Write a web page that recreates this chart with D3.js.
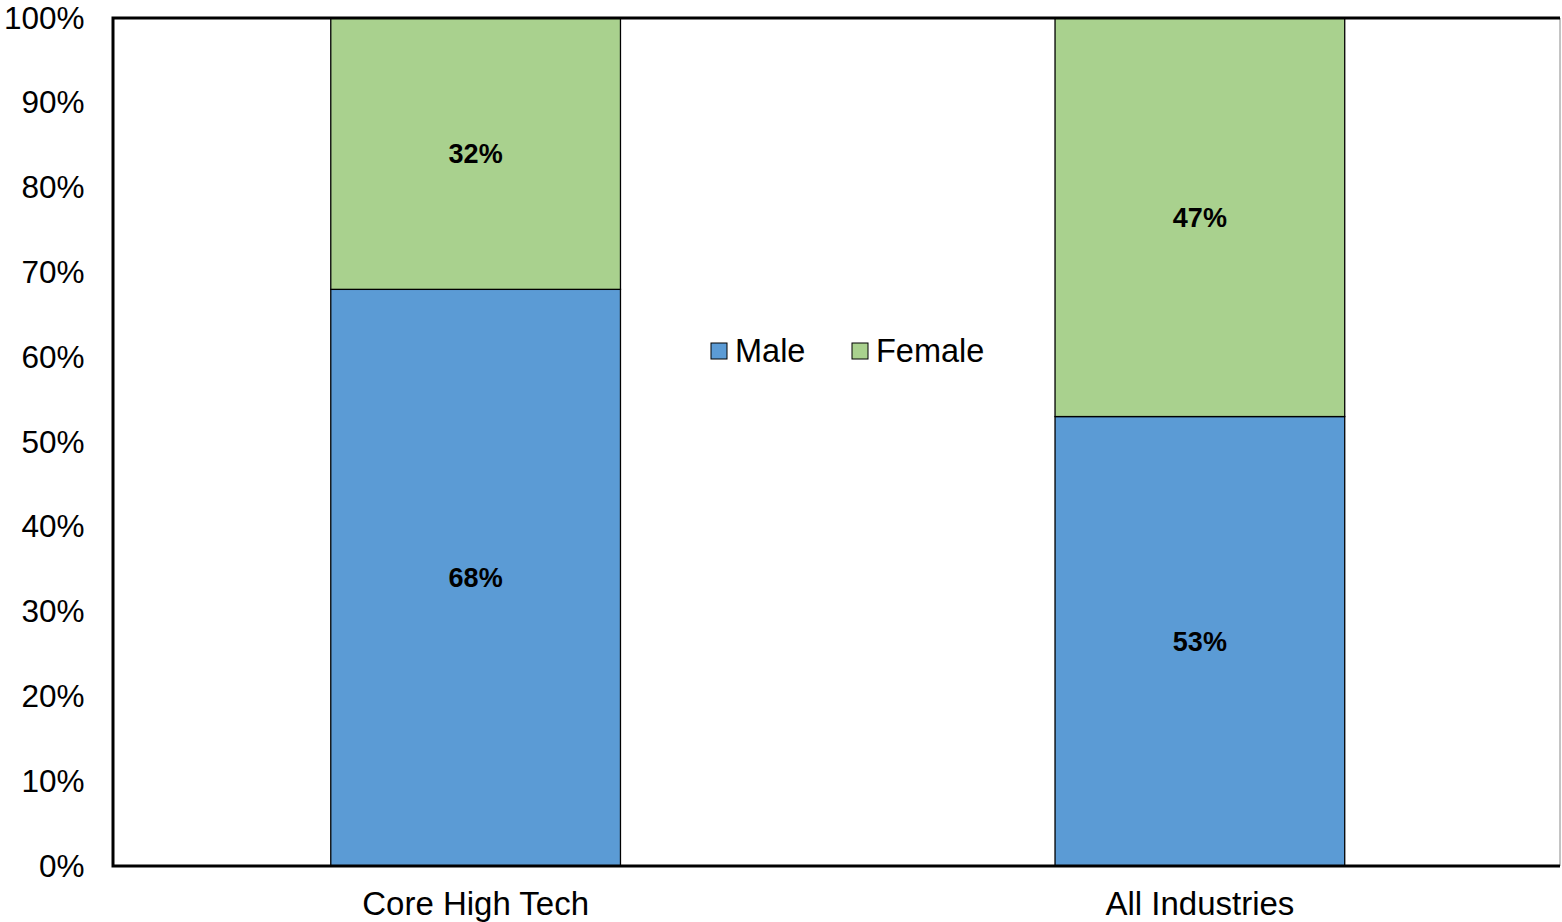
<!DOCTYPE html>
<html>
<head>
<meta charset="utf-8">
<script src="https://cdn.jsdelivr.net/npm/d3@7"></script>
<style>
  body { margin: 0; background: #fff; }
  svg { display: block; font-family: "Liberation Sans", Arial, sans-serif; }
</style>
</head>
<body>
<div id="chart"></div>
<script>
const categories = ['Core High Tech', 'All Industries']
const male = [68, 53]
const female = [32, 47]
const seriesNames = ['Male', 'Female']
const yTicks = [0, 10, 20, 30, 40, 50, 60, 70, 80, 90, 100]

const width = 1562
const height = 922
const margin = { top: 18, right: 0, bottom: 56, left: 113.5 }
const colors = { Male: '#5b9bd5', Female: '#a9d18e' }

const svg = d3.select('#chart')
  .append('svg')
  .attr('width', width)
  .attr('height', height)

const x = d3.scaleBand()
  .domain(categories)
  .range([margin.left, width - margin.right])
  .paddingInner(0.6)
  .paddingOuter(0.3)

const y = d3.scaleLinear()
  .domain([0, 100])
  .range([height - margin.bottom, margin.top])

// stacked data
const rows = categories.map((c, i) => ({ cat: c, Male: male[i], Female: female[i] }))
const stack = d3.stack().keys(seriesNames)(rows)

const g = svg.append('g')

g.selectAll('.series')
  .data(stack)
  .enter().append('g')
  .attr('class', 'series')
  .attr('fill', d => colors[d.key])
  .selectAll('rect')
  .data(d => d.map(p => ({ key: d.key, p })))
  .enter().append('rect')
  .attr('x', d => x(d.p.data.cat))
  .attr('y', d => y(d.p[1]))
  .attr('width', x.bandwidth())
  .attr('height', d => y(d.p[0]) - y(d.p[1]))
  .attr('stroke', '#000')
  .attr('stroke-width', 1.3)

// data labels
g.selectAll('.series')
  .selectAll('text')
  .data(d => d.map(p => ({ key: d.key, p })))
  .enter().append('text')
  .attr('x', d => x(d.p.data.cat) + x.bandwidth() / 2)
  .attr('y', d => (y(d.p[0]) + y(d.p[1])) / 2)
  .attr('dy', '0.35em')
  .attr('text-anchor', 'middle')
  .attr('fill', '#000')
  .style('font-size', '27px')
  .style('font-weight', 'bold')
  .text(d => d.p.data[d.key] + '%')

// frame
svg.append('line')
  .attr('x1', width - 2).attr('x2', width - 2)
  .attr('y1', y(100)).attr('y2', y(0))
  .attr('stroke', '#888').attr('stroke-width', 1)
svg.append('path')
  .attr('d', `M${width - 2},${y(100)} H${margin.left - 0.5} V${y(0)} H${width - 2}`)
  .attr('fill', 'none')
  .attr('stroke', '#000')
  .attr('stroke-width', 3)

// y axis labels
const yAxis = d3.axisLeft(y)
  .tickValues(yTicks)
  .tickSize(0)
  .tickPadding(29)
  .tickFormat(d => d + '%')

svg.append('g')
  .attr('transform', `translate(${margin.left},0)`)
  .call(yAxis)
  .call(s => s.select('.domain').remove())
  .selectAll('text')
  .attr('fill', '#000')
  .style('font-size', '31.5px')
  .style('font-family', '"Liberation Sans", Arial, sans-serif')

// x axis labels
const xAxis = d3.axisBottom(x).tickSize(0).tickPadding(26)
svg.append('g')
  .attr('transform', `translate(0,${y(0)})`)
  .call(xAxis)
  .call(s => s.select('.domain').remove())
  .selectAll('text')
  .attr('fill', '#000')
  .style('font-size', '33px')
  .style('font-family', '"Liberation Sans", Arial, sans-serif')

// legend
const legend = svg.append('g').attr('transform', 'translate(711,351)')
const legendX = [0, 141]
seriesNames.forEach((name, i) => {
  const lg = legend.append('g').attr('transform', `translate(${legendX[i]},0)`)
  lg.append('rect')
    .attr('x', 0).attr('y', -8)
    .attr('width', 16).attr('height', 16)
    .attr('fill', colors[name])
    .attr('stroke', '#000')
    .attr('stroke-width', 1)
  lg.append('text')
    .attr('x', 24)
    .attr('dy', '0.35em')
    .attr('fill', '#000')
    .style('font-size', '32.5px')
    .text(name)
})
</script>
</body>
</html>
